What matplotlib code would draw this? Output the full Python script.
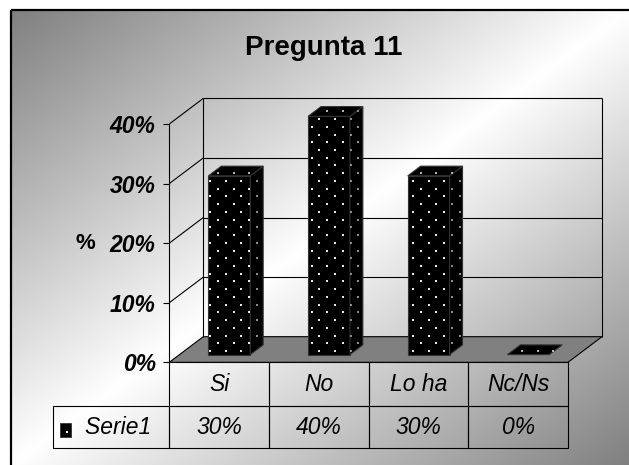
import numpy as np
import matplotlib
matplotlib.use('Agg')
import matplotlib.pyplot as plt
from matplotlib.patches import Polygon, Rectangle
from matplotlib.path import Path
from matplotlib.table import Table

plt.rcParams['font.family'] = ['Liberation Sans', 'DejaVu Sans']

title = 'Pregunta 11'
categories = ['Si', 'No', 'Lo ha', 'Nc/Ns']
values = [30, 40, 30, 0]
series_name = 'Serie1'
yticks = [0, 10, 20, 30, 40]

W, H = 629, 465
fig = plt.figure(figsize=(W / 100, H / 100), dpi=100)

# chart area: diagonal grey -> white -> grey fill inside a black frame
bg = fig.add_axes([0, 0, 1, 1])
bg.set_xlim(0, W)
bg.set_ylim(H, 0)
bg.axis('off')
yy, xx = np.mgrid[0:H, 0:W] + 0.5
u = (xx - 11) / 618 + (yy - 11) / 454
shade = np.clip(0.5 + 0.5 * (1 - np.abs(u - 1)), 0, 1)
shade[(xx < 11) | (yy < 11)] = 1.0
bg.imshow(np.dstack([shade] * 3), extent=(0, W, H, 0), aspect='auto',
          interpolation='bilinear', zorder=0)
bg.add_patch(Rectangle((10.5, 10.5), W, H, fill=False, ec='black', lw=1.6, zorder=1))

fig.text(324 / W, 1 - 55 / H, title, ha='center', va='baseline',
         fontsize=20, fontweight='bold')

# front plane of the plot in pixels
x0, x1 = 169.3, 568.0
y0, y40 = 362.3, 124.0
n = len(categories)
ax = fig.add_axes([x0 / W, (H - y0) / H, (x1 - x0) / W, (y0 - y40) / H])
ax.set_xlim(0, n)
ax.set_ylim(0, yticks[-1])
ax.patch.set_visible(False)
for s in ax.spines.values():
    s.set_visible(False)
ax.set_xticks([])
ax.set_yticks(yticks, [f'{t}%' for t in yticks], fontsize=16.5,
              fontweight='bold', fontstyle='italic')
ax.tick_params(axis='y', length=4.3, width=0.8, pad=5.5, direction='out')
ax.set_ylabel('%', rotation=0, fontsize=16, fontweight='bold', ha='center', va='center')
ax.yaxis.set_label_coords(-0.21, 0.5)

# oblique depth offset (data units per unit depth)
DX, DY = 0.341, 4.3


def P(x, v, d):
    return (x + DX * d, v + DY * d)


def line(a, b, **kw):
    ax.plot([a[0], b[0]], [a[1], b[1]], color='black', lw=0.8, clip_on=False,
            solid_capstyle='butt', **kw)


top = yticks[-1]
# floor
ax.add_patch(Polygon([P(0, 0, 0), P(n, 0, 0), P(n, 0, 1), P(0, 0, 1)],
                     closed=True, fc='#808080', ec='black', lw=0.8,
                     clip_on=False, zorder=1))
# walls and gridlines
for t in yticks[1:]:
    line(P(0, t, 1), P(n, t, 1), zorder=1.5)
    line(P(0, t, 0), P(0, t, 1), zorder=1.5)
line(P(0, 0, 1), P(0, top, 1), zorder=1.5)
line(P(n, 0, 1), P(n, top, 1), zorder=1.5)
line(P(0, 0, 0), P(0, top, 0), zorder=1.5)

# dot texture lattice for the bar fill
sx = 7.8 / (x1 - x0) * n
sy = 7.73 / (y0 - y40) * top
kk, jj = np.meshgrid(np.arange(-5, 70), np.arange(-10, 45))
keep = (kk + jj) % 2 == 0
lattice = np.column_stack([kk[keep] * sx + 0.02, jj[keep] * sy + 0.6])


def face(verts, dot_color):
    ax.add_patch(Polygon(verts, closed=True, fc='black', ec='#333333', lw=0.8,
                         clip_on=False, zorder=3))
    inside = Path(verts).contains_points(lattice, radius=-0.01)
    pts = lattice[inside]
    if len(pts):
        ax.scatter(pts[:, 0], pts[:, 1], s=1.3, marker='s', c=dot_color,
                   linewidths=0, clip_on=False, zorder=4)


d0, d1 = 0.3, 0.68
for i, v in enumerate(values):
    xl, xr = i + 0.29, i + 0.71
    if v > 0:
        face([P(xl, 0, d0), P(xr, 0, d0), P(xr, v, d0), P(xl, v, d0)], '#e8e8e8')
        face([P(xr, 0, d0), P(xr, 0, d1), P(xr, v, d1), P(xr, v, d0)], '#8a8a8a')
    face([P(xl, v, d0), P(xr, v, d0), P(xr, v, d1), P(xl, v, d1)], '#b0b0b0')

# data table under the plot, sizes given in axes fractions so the
# bbox fit does not rescale anything
ax_w = x1 - x0
ax_h = y0 - y40
col_w = 1.0 / n
head_h = 44 / ax_h
row_h = 42 / ax_h
label_w = (x0 - 53.3) / ax_w
tb = Table(ax, bbox=[0, -(head_h + row_h), 1, head_h + row_h])
for j, cat in enumerate(categories):
    tb.add_cell(0, j, width=col_w, height=head_h, text=cat, loc='center',
                facecolor='none', edgecolor='black')
tb.add_cell(1, -1, width=label_w, height=row_h, text=series_name + ' ',
            loc='right', facecolor='none', edgecolor='black')
for j, v in enumerate(values):
    tb.add_cell(1, j, width=col_w, height=row_h, text=f'{v}%', loc='center',
                facecolor='none', edgecolor='black')
tb.auto_set_font_size(False)
tb.set_fontsize(16.5)
for cell in tb.get_celld().values():
    cell.set_linewidth(0.8)
    cell.get_text().set_fontstyle('italic')
ax.add_table(tb)

# legend key next to the series name
bg.add_patch(Rectangle((59.5, 422.5), 11, 14, fc='black', ec='#333333', lw=0.6, zorder=2))
bg.scatter([66.5], [431.5], s=1.6, marker='s', c='#e8e8e8', linewidths=0, zorder=3)

fig.savefig('out.png', dpi=100)
